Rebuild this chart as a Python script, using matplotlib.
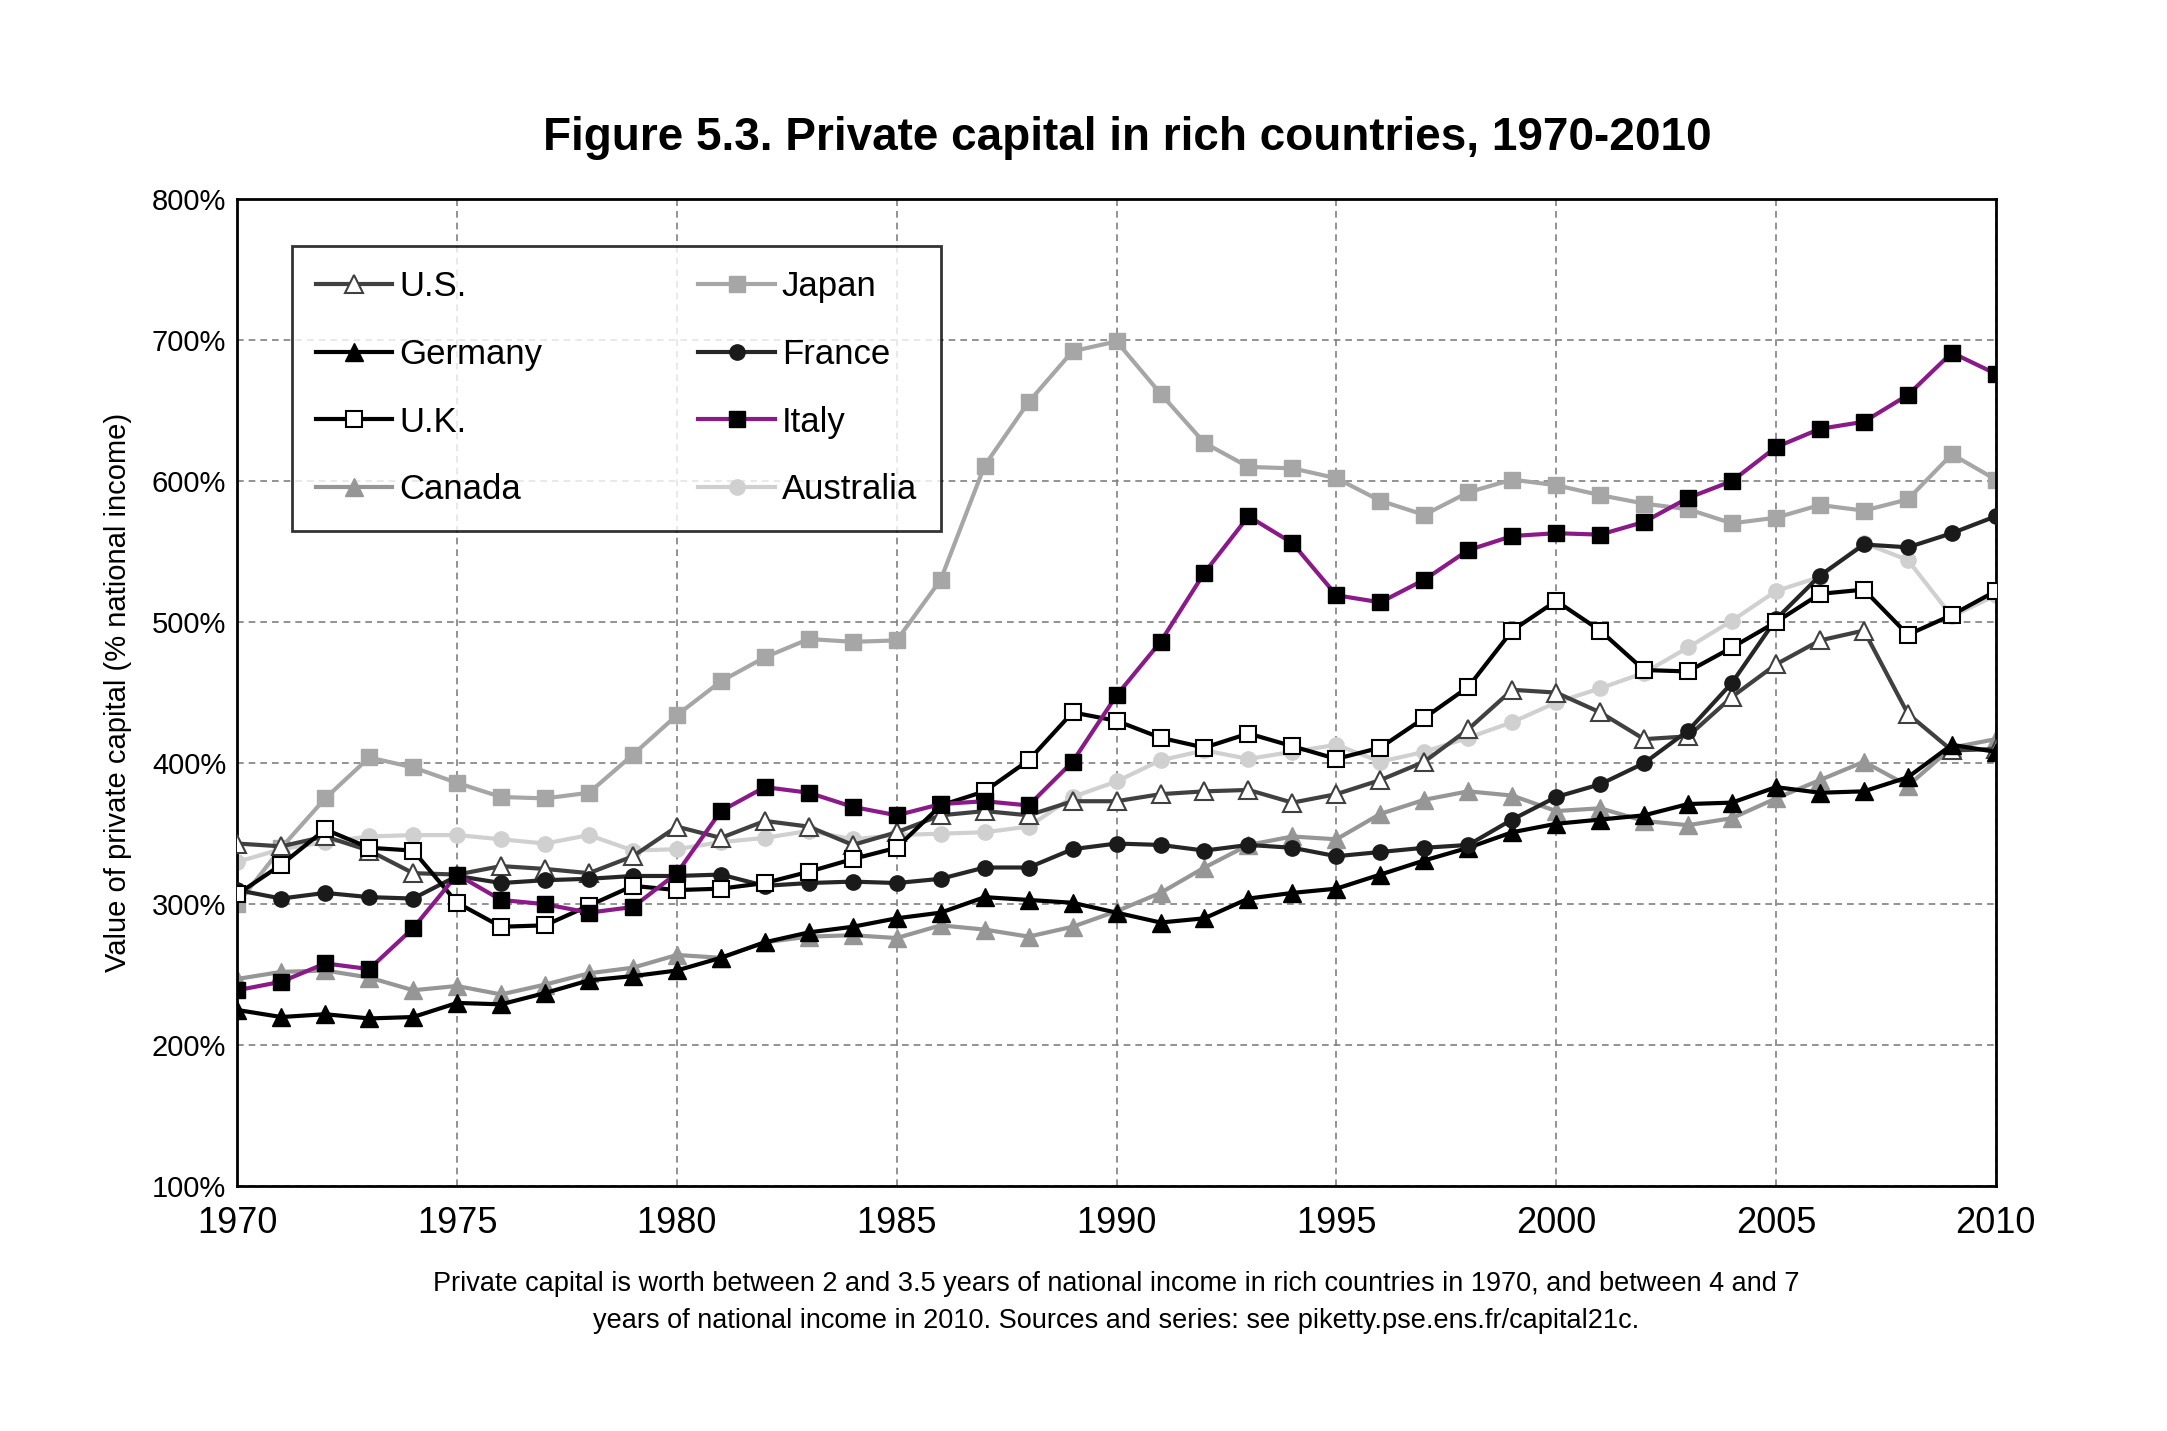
import matplotlib
matplotlib.use("Agg")
import matplotlib.pyplot as plt
from matplotlib.ticker import FuncFormatter

plt.rcParams["font.family"] = ["Liberation Sans", "DejaVu Sans"]

years = list(range(1970, 2011))

us = [343, 341, 348, 338, 322, 321, 327, 325, 322, 334, 355, 347, 359, 355, 342, 351, 363, 366, 363, 373,
      373, 378, 380, 381, 372, 378, 388, 401, 424, 452, 450, 436, 417, 419, 447, 470, 487, 494, 435, 409, 410]
japan = [300, 340, 375, 404, 397, 386, 376, 375, 379, 406, 434, 458, 475, 488, 486, 487, 530, 611, 656, 692,
         699, 662, 627, 610, 609, 602, 586, 576, 592, 601, 597, 590, 584, 580, 570, 574, 583, 579, 587, 619, 601]
germany = [225, 220, 222, 219, 220, 230, 229, 237, 246, 249, 253, 262, 273, 280, 284, 290, 294, 305, 303, 301,
           294, 287, 290, 304, 308, 311, 321, 331, 340, 351, 357, 360, 363, 371, 372, 383, 379, 380, 390, 413, 408]
france = [310, 304, 308, 305, 304, 320, 315, 317, 318, 320, 320, 321, 313, 315, 316, 315, 318, 326, 326, 339,
          343, 342, 338, 342, 340, 334, 337, 340, 342, 360, 376, 385, 400, 423, 457, 502, 533, 555, 553, 563, 575]
uk = [307, 328, 353, 340, 338, 301, 284, 285, 299, 313, 310, 311, 315, 323, 332, 340, 370, 380, 402, 436,
      430, 418, 411, 421, 412, 403, 411, 432, 454, 494, 515, 494, 466, 465, 482, 500, 520, 523, 491, 505, 522]
italy = [239, 245, 258, 254, 283, 321, 303, 300, 294, 298, 322, 366, 383, 379, 369, 363, 371, 373, 370, 401,
         448, 486, 535, 575, 556, 519, 514, 530, 551, 561, 563, 562, 571, 588, 600, 624, 637, 642, 661, 691, 676]
canada = [247, 252, 253, 248, 239, 242, 236, 243, 251, 255, 264, 262, 273, 277, 278, 276, 285, 282, 277, 284,
          295, 308, 326, 342, 348, 346, 364, 374, 380, 377, 366, 368, 359, 356, 361, 375, 388, 401, 384, 411, 417]
australia = [330, 339, 344, 348, 349, 349, 346, 343, 349, 338, 339, 344, 347, 352, 346, 349, 350, 351, 355, 376,
             387, 402, 409, 403, 408, 413, 401, 408, 418, 429, 443, 453, 464, 482, 501, 522, 532, 556, 544, 504, 519]

fig = plt.figure(figsize=(21.67, 14.31), dpi=100)
ax = fig.add_axes([0.1095, 0.171, 0.8115, 0.69])

ms = 11
lw = 3
h_us, = ax.plot(years, us, color="#404040", lw=lw, marker="^", ms=ms + 2, mfc="white", mec="#404040", mew=1.5, label="U.S.", zorder=3)
h_jp, = ax.plot(years, japan, color="#a6a6a6", lw=lw, marker="s", ms=ms, mfc="#a6a6a6", mec="#a6a6a6", label="Japan", zorder=2)
h_de, = ax.plot(years, germany, color="black", lw=lw, marker="^", ms=ms + 2, mfc="black", mec="black", label="Germany", zorder=3)
h_fr, = ax.plot(years, france, color="#262626", lw=lw, marker="o", ms=ms, mfc="#1a1a1a", mec="#1a1a1a", label="France", zorder=3)
h_uk, = ax.plot(years, uk, color="black", lw=lw, marker="s", ms=ms, mfc="white", mec="black", mew=1.5, label="U.K.", zorder=4)
h_it, = ax.plot(years, italy, color="#8b1a89", lw=lw, marker="s", ms=ms, mfc="black", mec="black", label="Italy", zorder=4)
h_ca, = ax.plot(years, canada, color="#969696", lw=lw, marker="^", ms=ms + 2, mfc="#969696", mec="#969696", label="Canada", zorder=2)
h_au, = ax.plot(years, australia, color="#d0d0d0", lw=lw, marker="o", ms=ms, mfc="#d0d0d0", mec="#d0d0d0", label="Australia", zorder=2)

ax.set_xlim(1970, 2010)
ax.set_ylim(100, 800)
ax.set_xticks(range(1970, 2011, 5))
ax.set_yticks(range(100, 801, 100))
ax.yaxis.set_major_formatter(FuncFormatter(lambda v, p: f"{v:.0f}%"))
ax.tick_params(axis="x", labelsize=26, length=0, pad=14)
ax.tick_params(axis="y", labelsize=21, length=0, pad=8)
ax.grid(True, color="#808080", linestyle=(0, (4, 3)), lw=1.2)
for s in ax.spines.values():
    s.set_linewidth(2)
ax.set_ylabel("Value of private capital (% national income)", fontsize=21, labelpad=14)

# legend fills column-wise, so order handles to read row-wise
handles = [h_us, h_de, h_uk, h_ca, h_jp, h_fr, h_it, h_au]
leg = ax.legend(handles=handles, labels=[h.get_label() for h in handles],
                loc="upper left", bbox_to_anchor=(0.021, 0.97), ncol=2, fontsize=25, frameon=True,
                fancybox=False, edgecolor="black", handlelength=2.2, handletextpad=0.2,
                columnspacing=4.5, labelspacing=1.0, borderpad=0.7)
leg.get_frame().set_linewidth(2)

fig.text(0.52, 0.895, "Figure 5.3. Private capital in rich countries, 1970-2010",
         ha="center", fontsize=33, fontweight="bold")
fig.text(0.515, 0.098, "Private capital is worth between 2 and 3.5 years of national income in rich countries in 1970, and between 4 and 7",
         ha="center", fontsize=19.5)
fig.text(0.515, 0.072, "years of national income in 2010. Sources and series: see piketty.pse.ens.fr/capital21c.",
         ha="center", fontsize=19.5)

fig.savefig("out.png", dpi=100, facecolor="white")
